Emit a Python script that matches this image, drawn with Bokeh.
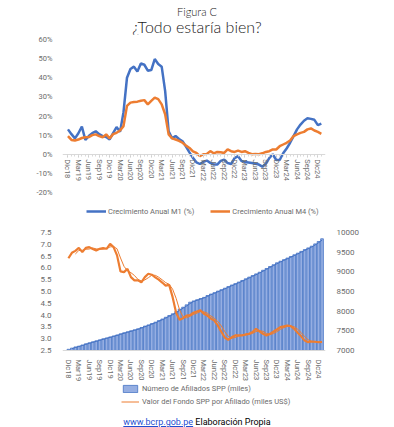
import pandas as pd
from bokeh.plotting import figure
from bokeh.models import (Range1d, LinearAxis, FixedTicker, Legend, LegendItem, Div,
                          NumeralTickFormatter)
from bokeh.layouts import column
from bokeh.embed import file_html
from bokeh.resources import INLINE

# ---------------- data ----------------
tick_labels = ["Dic18", "Mar19", "Jun19", "Sep19", "Dic19", "Mar20", "Jun20", "Sep20", "Dic20",
               "Mar21", "Jun21", "Sep21", "Dic21", "Mar22", "Jun22", "Sep22", "Dic22", "Mar23",
               "Jun23", "Sep23", "Dic23", "Mar24", "Jun24", "Sep24", "Dic24"]

# monthly, Dic18 .. Ene25 (annual growth, %)
m1 = [13, 10.5, 8.3, 11, 14.5, 7.5, 9.5, 11, 12, 10.5,
      9.5, 9, 7.8, 11, 14.2, 11.7, 22, 40, 44.6, 45.8,
      43.3, 47.5, 46.8, 43.7, 44, 49.8, 47.2, 45.8, 33, 12,
      8.3, 9.5, 8, 6.8, 4, 1, -1.9, -4.2, -5.1, -4,
      -3.3, -4.5, -5.4, -5.4, -3.5, -2.8, -4.6, -5.1, -2, -1,
      -3.5, -4, -4.3, -4.6, -5, -5.4, -6.5, -5, -2, 0,
      -3, -3, 0.5, 3, 6, 9.5, 13, 15.5, 17.5, 18.8,
      18.5, 18, 15.2, 16]
m4 = [9.5, 7.5, 7.2, 7.7, 8.5, 8.9, 9, 10, 10.4, 9.5,
      8.9, 10.4, 8.3, 10.5, 11.2, 12.4, 14.7, 25.3, 27, 27.3,
      27.5, 28, 28.3, 26.1, 27.9, 29.6, 28.8, 26.1, 20.9, 10.4,
      8.3, 7.7, 7, 6, 4.5, 3.3, 1.5, 0.7, -1, 0,
      0.2, 1.6, 0.5, 1.2, 1, 0.7, 2.5, 1.6, 1.2, 1.9,
      1.2, 1.6, 0.7, 0, 0.2, 0, 0.5, 1.2, 1.6, 2.5,
      2.5, 4.2, 5.1, 6, 7.2, 9.5, 10.4, 11.2, 11.7, 13,
      13.5, 12.4, 11.7, 10.7]
# Valor del Fondo SPP por afiliado (miles US$)
fondo = [6.41, 6.64, 6.72, 6.85, 6.67, 6.85, 6.88, 6.80, 6.74, 6.81,
         6.84, 6.81, 7.02, 6.88, 6.53, 5.85, 5.82, 5.96, 5.61, 5.47,
         5.47, 5.39, 5.61, 5.75, 5.71, 5.6, 5.5, 5.38, 5.25, 5.28,
         4.76, 4.1, 3.8, 3.87, 3.98, 4.0, 4.1, 4.15, 4.2, 4.06,
         3.98, 3.85, 3.77, 3.56, 3.3, 3.05, 2.95, 3.06, 3.14, 3.14,
         3.14, 3.18, 3.21, 3.28, 3.42, 3.31, 3.21, 3.14, 3.2, 3.3,
         3.39, 3.49, 3.52, 3.56, 3.53, 3.42, 3.25, 3.1, 2.92, 2.85,
         2.88, 2.87, 2.85, 2.86]
# Numero de afiliados SPP (miles)
afiliados = [7030, 7060, 7090, 7110, 7140, 7170, 7195, 7220, 7245, 7270,
             7297, 7320, 7345, 7370, 7395, 7424, 7450, 7475, 7500, 7525,
             7551, 7585, 7620, 7650, 7685, 7720, 7760, 7800, 7845, 7890,
             7932, 7990, 8050, 8100, 8160, 8228, 8260, 8290, 8320, 8350,
             8398, 8435, 8470, 8510, 8545, 8584, 8625, 8665, 8700, 8740,
             8780, 8822, 8865, 8905, 8948, 8990, 9040, 9085, 9135, 9180,
             9229, 9270, 9310, 9350, 9390, 9433, 9475, 9520, 9565, 9608,
             9652, 9710, 9770, 9840]

pct_ticks = [-20, -10, 0, 10, 20, 30, 40, 50, 60]
fondo_ticks = [2.5, 3.0, 3.5, 4.0, 4.5, 5.0, 5.5, 6.0, 6.5, 7.0, 7.5]
aff_ticks = [7000, 7500, 8000, 8500, 9000, 9500, 10000]

# ---------------- style ----------------
BLUE = "#4472C4"
ORANGE = "#ED7D31"
GRAY = "#6b6b6b"
FONT = "Roboto"
FS = "7.5px"
W = 394

x = list(range(len(m1)))
tick_pos = [3 * k for k in range(len(tick_labels))]
label_map = dict(zip(tick_pos, tick_labels))

title_div = Div(
    text=('<div style="width:394px;text-align:center;font-family:Lato;color:#1a1a1a;padding-top:6px;">'
          '<div style="font-size:11px;line-height:12px;font-weight:300;">Figura C</div>'
          '<div style="font-size:16px;line-height:18px;margin-top:0px;font-weight:300;">¿Todo estaría bien?</div></div>'),
    width=W, height=34, margin=(0, 0, 0, 0))

# ---------------- top chart ----------------
p1 = figure(width=W, height=186, x_range=Range1d(-1.58, 74.2), y_range=Range1d(-34.64, 60),
            output_backend="svg", toolbar_location=None,
            min_border_left=62, min_border_right=44, min_border_top=5, min_border_bottom=0)
p1.outline_line_color = None
p1.xgrid.visible = False
p1.ygrid.visible = False

r_m1 = p1.line(x, m1, color=BLUE, line_width=2.5)
r_m4 = p1.line(x, m4, color=ORANGE, line_width=2.5)

p1.yaxis.ticker = FixedTicker(ticks=pct_ticks)
p1.yaxis.major_label_overrides = {t: f"{t}%" for t in pct_ticks}
p1.yaxis.axis_line_color = None
p1.yaxis.major_tick_line_color = None
p1.yaxis.minor_tick_line_color = None
p1.yaxis.major_label_standoff = 4
p1.yaxis.major_label_text_font_size = FS
p1.yaxis.major_label_text_color = GRAY
p1.yaxis.major_label_text_font = FONT

p1.xaxis.fixed_location = 0
p1.xaxis.ticker = FixedTicker(ticks=tick_pos, minor_ticks=x)
p1.xaxis.major_label_overrides = label_map
p1.xaxis.major_label_orientation = "vertical"
p1.xaxis.axis_line_color = "#d9d9d9"
p1.xaxis.major_tick_line_color = "#c8c8c8"
p1.xaxis.minor_tick_line_color = "#d9d9d9"
p1.xaxis.major_tick_out = 3
p1.xaxis.major_tick_in = 0
p1.xaxis.minor_tick_out = 2
p1.xaxis.minor_tick_in = 0
p1.xaxis.major_label_standoff = 2
p1.xaxis.major_label_text_font_size = FS
p1.xaxis.major_label_text_color = GRAY
p1.xaxis.major_label_text_font = FONT

leg1 = Legend(items=[LegendItem(label="Crecimiento Anual M1 (%)", renderers=[r_m1]),
                     LegendItem(label="Crecimiento Anual M4 (%)", renderers=[r_m4])],
              orientation="horizontal", location=(24, 4),
              glyph_width=20, glyph_height=10, label_height=10, label_standoff=2,
              spacing=16, padding=2, margin=0, border_line_color=None,
              background_fill_alpha=0, label_text_font_size=FS,
              label_text_color=GRAY, label_text_font=FONT)
p1.add_layout(leg1)

# ---------------- bottom chart ----------------
p2 = figure(width=W, height=193, x_range=Range1d(-1.7, 74.0), y_range=Range1d(-0.17, 7.5),
            output_backend="svg", toolbar_location=None,
            min_border_left=57, min_border_right=69, min_border_top=12, min_border_bottom=0)
p2.outline_line_color = None
p2.xgrid.visible = False
p2.ygrid.visible = False
p2.extra_y_ranges = {"aff": Range1d(5398, 10000)}

aff_trend = pd.Series(afiliados).rolling(2).mean()
fondo_trend = pd.Series(fondo).rolling(3).mean()

r_bars = p2.vbar(x=x, top=afiliados, bottom=7000, width=0.78, y_range_name="aff",
                 fill_color="#95AEE2", line_color=BLUE, line_width=0.8)
p2.line(x, aff_trend, y_range_name="aff", color=BLUE, line_width=1)
r_fondo_tr = p2.line(x, fondo_trend, color=ORANGE, line_width=1)
r_fondo = p2.line(x, fondo, color=ORANGE, line_width=2.2)

p2.yaxis.ticker = FixedTicker(ticks=fondo_ticks)
p2.yaxis.formatter = NumeralTickFormatter(format="0.0")
ax_r = LinearAxis(y_range_name="aff", ticker=FixedTicker(ticks=aff_ticks))
p2.add_layout(ax_r, "right")
for ax in (p2.yaxis[0], ax_r):
    ax.axis_line_color = None
    ax.major_tick_line_color = None
    ax.minor_tick_line_color = None
    ax.major_label_standoff = 5
    ax.major_label_text_font_size = "8px"
    ax.major_label_text_color = GRAY
    ax.major_label_text_font = FONT

p2.xaxis.fixed_location = 2.5
p2.xaxis.ticker = FixedTicker(ticks=tick_pos)
p2.xaxis.major_label_overrides = label_map
p2.xaxis.major_label_orientation = "vertical"
p2.xaxis.axis_line_color = "#d9d9d9"
p2.xaxis.major_tick_line_color = None
p2.xaxis.minor_tick_line_color = None
p2.xaxis.major_label_standoff = 3
p2.xaxis.major_label_text_font_size = FS
p2.xaxis.major_label_text_color = GRAY
p2.xaxis.major_label_text_font = FONT

leg2 = Legend(items=[LegendItem(label="Número de Afiliados SPP (miles)", renderers=[r_bars]),
                     LegendItem(label="Valor del Fondo SPP por Afiliado (miles US$)", renderers=[r_fondo_tr])],
              orientation="vertical", location=(59, 7),
              glyph_width=18, glyph_height=9, label_height=9, label_standoff=3,
              spacing=4, padding=1, margin=0, border_line_color=None,
              background_fill_alpha=0, label_text_font_size=FS,
              label_text_color=GRAY, label_text_font=FONT)
p2.add_layout(leg2)

footer = Div(
    text=('<div style="width:394px;text-align:center;font-family:Roboto;font-size:9px;line-height:14px;">'
          '<span style="color:#1f4fd0;text-decoration:underline;">www.bcrp.gob.pe</span> '
          '<span style="color:#000;">Elaboración Propia</span></div>'),
    width=W, height=14, margin=(0, 0, 0, 0))

layout = column(title_div, p1, p2, footer, spacing=0)
open("out.html", "w").write(file_html(layout, INLINE))
